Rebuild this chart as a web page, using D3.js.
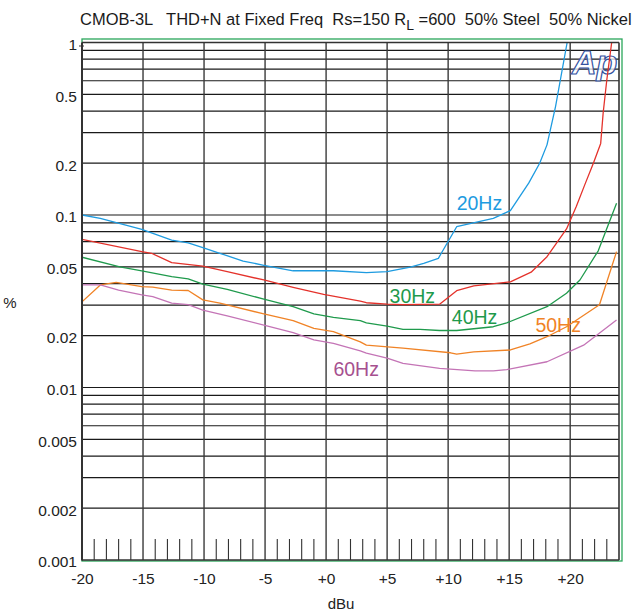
<!DOCTYPE html>
<html>
<head>
<meta charset="utf-8">
<script src="https://cdn.jsdelivr.net/npm/d3@7"></script>
<style>
  html, body { margin: 0; padding: 0; background: #fff; }
  svg { display: block; font-family: "Liberation Sans", Arial, Helvetica, sans-serif; }
</style>
</head>
<body>
<svg id="chart" width="637" height="614"></svg>
<script>
// THD+N (%) versus level (dBu), one trace per test frequency: [dBu, %]
const thd20Hz = [[-20,0.100],[-18.5,0.0957],[-15.1,0.0826],[-12.65,0.0716],[-11.3,0.069],[-10.1,0.0646],
  [-8.7,0.060],[-6.8,0.0541],[-5.1,0.0511],[-2.7,0.0475],[0.6,0.0475],[3.3,0.0463],[5.0,0.0469],
  [6.9,0.0499],[8.0,0.0525],[9.2,0.0561],[10.7,0.0855],[13.7,0.0957],[15.1,0.106],[16.6,0.153],
  [17.5,0.1995],[18.1,0.255],[18.8,0.425],[19.75,1.0],[19.9,1.2]];
const thd30Hz = [[-20,0.0723],[-15.1,0.0613],[-14.3,0.060],[-12.65,0.0529],[-10.1,0.0506],[-8.1,0.0469],
  [-5.1,0.042],[-2.7,0.0381],[-0.2,0.0347],[2.8,0.0317],[3.3,0.031],[5.0,0.0304],[6.3,0.0302],
  [9.3,0.0304],[10.7,0.0364],[12.1,0.0388],[15.1,0.041],[16.8,0.0466],[18.1,0.0573],[19.7,0.083],
  [20.5,0.112],[21.2,0.15],[21.9,0.1995],[22.5,0.26],[22.7,0.389],[23.0,0.606],[23.4,1.0],[23.5,1.2]];
const thd40Hz = [[-20,0.0569],[-16.9,0.0501],[-15.1,0.0475],[-12.65,0.0439],[-11.3,0.0426],[-10.1,0.0398],
  [-8.1,0.0371],[-5.1,0.0325],[-2.7,0.0294],[-1.0,0.0267],[0.6,0.0255],[2.8,0.0244],[3.3,0.0237],
  [5.0,0.0227],[6.3,0.0217],[7.7,0.0217],[9.3,0.0214],[10.7,0.0214],[13.7,0.0225],[14.8,0.0237],
  [18.1,0.0294],[19.7,0.0352],[20.8,0.042],[22.3,0.062],[23.8,0.117]];
const thd50Hz = [[-20,0.0314],[-18.5,0.0393],[-17.2,0.0407],[-15.1,0.0384],[-14.2,0.0382],[-12.65,0.0367],
  [-11.3,0.0365],[-10.1,0.0322],[-8.7,0.0308],[-5.1,0.0267],[-2.7,0.0244],[-1.0,0.022],[0.6,0.0211],
  [2.8,0.0184],[3.3,0.0176],[6.3,0.0169],[10.2,0.0159],[10.7,0.0156],[12.1,0.0161],[15.1,0.0165],
  [16.7,0.0179],[18.1,0.0197],[19.7,0.0225],[22.4,0.0302],[23.8,0.0613]];
const thd60Hz = [[-20,0.0393],[-18.5,0.0393],[-17.0,0.0367],[-15.1,0.0344],[-14.2,0.0336],[-12.65,0.0308],
  [-11.3,0.0302],[-10.1,0.0281],[-8.1,0.026],[-5.1,0.023],[-2.7,0.0208],[-1.0,0.0189],[0.6,0.018],
  [2.8,0.0163],[3.3,0.0158],[5.0,0.0148],[6.3,0.0138],[9.3,0.0129],[12.2,0.0125],[13.7,0.0125],
  [14.8,0.0127],[18.1,0.0141],[21.1,0.0176],[23.8,0.0246]];

const seriesNames = ["20Hz", "30Hz", "40Hz", "50Hz", "60Hz"];
const seriesData = [thd20Hz, thd30Hz, thd40Hz, thd50Hz, thd60Hz];
const lineColors = ["#1e9be0", "#e4322b", "#1f9a4c", "#f08326", "#c474b6"];
const labelColors = ["#1e9be0", "#1f9a4c", "#1f9a4c", "#f08326", "#a6508f"];
// where each trace name sits, in chart units [dBu, %] (text baseline start)
const labelAt = [[10.7, 0.107], [5.2, 0.0307], [10.3, 0.0233], [17.15, 0.0211], [0.6, 0.01166]];

const yTickValues = [1, 0.5, 0.2, 0.1, 0.05, 0.02, 0.01, 0.005, 0.002, 0.001];
const yTickLabels = ["1", "0.5", "0.2", "0.1", "0.05", "0.02", "0.01", "0.005", "0.002", "0.001"];
const xTickValues = [-20, -15, -10, -5, 0, 5, 10, 15, 20];
const xTickLabels = ["-20", "-15", "-10", "-5", "+0", "+5", "+10", "+15", "+20"];

const FONT = '"Liberation Sans", Arial, Helvetica, sans-serif';
const svg = d3.select("#chart");

const plot = { left: 82, right: 619, top: 42.5, bottom: 560 };
const x = d3.scaleLinear().domain([-20, 24]).range([plot.left, plot.right]);
const y = d3.scaleLog().domain([0.001, 1]).range([plot.bottom, plot.top]);

// outer green border
svg.append("rect")
  .attr("x", 82).attr("y", 39).attr("width", 540).attr("height", 522)
  .attr("fill", "none").attr("stroke", "#2aa65a").attr("stroke-width", 1.3);

// horizontal grid at every 1..9 x decade
const grid = svg.append("g").attr("stroke", "#1a1a1a").attr("stroke-width", 1.2);
grid.selectAll("line.h")
  .data(y.ticks().filter(v => v > 0.001))
  .join("line")
  .attr("x1", plot.left).attr("x2", plot.right)
  .attr("y1", d => y(d)).attr("y2", d => y(d));

// vertical grid every 5 dB
grid.selectAll("line.v")
  .data(d3.range(-15, 21, 5))
  .join("line")
  .attr("x1", d => x(d)).attr("x2", d => x(d))
  .attr("y1", plot.top).attr("y2", plot.bottom)
  .attr("stroke", "#3a3a3a").attr("stroke-width", 1.4);

// short minor ticks every 1 dB along the bottom
grid.selectAll("line.m")
  .data(d3.range(-19, 24).filter(d => d % 5 !== 0))
  .join("line")
  .attr("x1", d => x(d)).attr("x2", d => x(d))
  .attr("y1", plot.bottom - 21).attr("y2", plot.bottom)
  .attr("stroke", "#333").attr("stroke-width", 1.1);

// right frame
svg.append("line")
  .attr("x1", plot.right).attr("x2", plot.right)
  .attr("y1", plot.top).attr("y2", plot.bottom)
  .attr("stroke", "#333").attr("stroke-width", 1.6);

// Ap logo
svg.append("text")
  .attr("x", 572).attr("y", 74)
  .attr("font-family", FONT).attr("font-size", 34)
  .attr("font-style", "italic").attr("font-weight", "bold")
  .attr("fill", "#fff").attr("fill-opacity", 0.75)
  .attr("stroke", "#34529f").attr("stroke-width", 1.2)
  .text("Ap");

// traces
svg.append("clipPath").attr("id", "plotClip")
  .append("rect")
  .attr("x", plot.left).attr("y", plot.top)
  .attr("width", plot.right - plot.left).attr("height", plot.bottom - plot.top);

const line = d3.line().x(d => x(d[0])).y(d => y(d[1]));
svg.append("g").attr("clip-path", "url(#plotClip)")
  .selectAll("path")
  .data(seriesData)
  .join("path")
  .attr("d", line)
  .attr("fill", "none")
  .attr("stroke", (d, i) => lineColors[i])
  .attr("stroke-width", 1.3)
  .attr("stroke-linejoin", "round");

// trace names
svg.append("g")
  .selectAll("text")
  .data(seriesNames)
  .join("text")
  .attr("x", (d, i) => x(labelAt[i][0]))
  .attr("y", (d, i) => y(labelAt[i][1]))
  .attr("font-family", FONT).attr("font-size", 19.5)
  .attr("fill", (d, i) => labelColors[i])
  .text(d => d);

// axes
const yAxis = d3.axisLeft(y)
  .tickValues(yTickValues)
  .tickFormat((d, i) => yTickLabels[i])
  .tickSize(0).tickPadding(5);
svg.append("g")
  .attr("transform", `translate(${plot.left},0)`)
  .call(yAxis)
  .call(g => g.select(".domain").remove())
  .call(g => g.selectAll("text")
    .attr("font-family", FONT).attr("font-size", 15.5).attr("fill", "#222")
    .attr("dy", "0.45em"));

const xAxis = d3.axisBottom(x)
  .tickValues(xTickValues)
  .tickFormat((d, i) => xTickLabels[i])
  .tickSize(0).tickPadding(12.5);
svg.append("g")
  .attr("transform", `translate(0,${plot.bottom})`)
  .call(xAxis)
  .call(g => g.select(".domain").remove())
  .call(g => g.selectAll("text")
    .attr("font-family", FONT).attr("font-size", 15.5).attr("fill", "#222"));

// small tick beside the "1" label
svg.append("line")
  .attr("x1", 79).attr("x2", 84).attr("y1", 46).attr("y2", 46)
  .attr("stroke", "#333").attr("stroke-width", 1);

// axis lines
svg.append("line")
  .attr("x1", plot.left).attr("x2", plot.left)
  .attr("y1", plot.top).attr("y2", plot.bottom + 0.5)
  .attr("stroke", "#333").attr("stroke-width", 2);
svg.append("line")
  .attr("x1", plot.left).attr("x2", plot.right)
  .attr("y1", plot.bottom).attr("y2", plot.bottom)
  .attr("stroke", "#333").attr("stroke-width", 1.6);
svg.append("line")
  .attr("x1", plot.left).attr("x2", plot.right)
  .attr("y1", plot.top).attr("y2", plot.top)
  .attr("stroke", "#333").attr("stroke-width", 1.4);

// axis titles
svg.append("text")
  .attr("x", 341).attr("y", 609).attr("text-anchor", "middle")
  .attr("font-family", FONT).attr("font-size", 15).attr("fill", "#222")
  .text("dBu");
svg.append("text")
  .attr("x", 10).attr("y", 308).attr("text-anchor", "middle")
  .attr("font-family", FONT).attr("font-size", 15).attr("fill", "#222")
  .text("%");

// title
const title = svg.append("text")
  .attr("x", 80).attr("y", 25)
  .attr("font-family", FONT).attr("font-size", 16).attr("fill", "#1a1a1a")
  .style("white-space", "pre");
title.append("tspan").text("CMOB-3L   THD+N at Fixed Freq  Rs=150 R");
title.append("tspan").attr("dy", 5).attr("font-size", 14).text("L");
title.append("tspan").attr("dy", -5).text(" =600  50% Steel  50% Nickel");
const w = title.node().getComputedTextLength();
if (w > 0) title.attr("font-size", 16 * 552 / w);
</script>
</body>
</html>
